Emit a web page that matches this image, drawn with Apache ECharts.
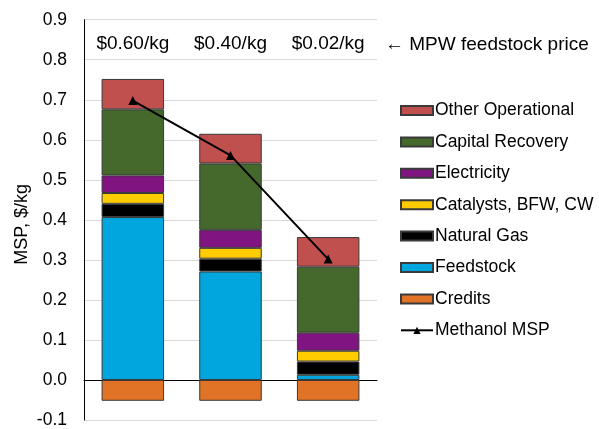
<!DOCTYPE html>
<html>
<head>
<meta charset="utf-8">
<script src="https://cdn.jsdelivr.net/npm/echarts@6/dist/echarts.min.js"></script>
<style>html,body{margin:0;padding:0;background:#fff}#c{width:599px;height:429px}</style>
</head>
<body>
<div id="c"></div>
<script>
const categories = ['$0.60/kg', '$0.40/kg', '$0.02/kg'];
const feedstock = [0.407, 0.271, 0.013];
const naturalGas = [0.033, 0.032, 0.033];
const catalysts = [0.027, 0.027, 0.027];
const electricity = [0.044, 0.045, 0.045];
const capitalRecovery = [0.165, 0.166, 0.165];
const otherOperational = [0.076, 0.074, 0.074];
const credits = [-0.052, -0.052, -0.052];
const methanolMSP = [0.698, 0.561, 0.302];
const yTicks = { min: -0.1, max: 0.9, interval: 0.1 };

const FONT = 'Liberation Sans';
const border = { borderColor: '#3a3a3a', borderWidth: 1 };
function bar(name, data, color) {
  return { name, type: 'bar', stack: 'msp', data, barWidth: '64%',
    itemStyle: Object.assign({ color }, border), emphasis: { disabled: true } };
}
const chart = echarts.init(document.getElementById('c'), null, { renderer: 'canvas' });
chart.setOption({
  animation: false,
  textStyle: { fontFamily: FONT, color: '#000' },
  grid: { left: 84, right: 222, top: 19.7, bottom: 6 },
  legend: {
    orient: 'vertical', left: 395, top: 96,
    itemWidth: 32, itemHeight: 9, itemGap: 12.4,
    textStyle: { fontFamily: FONT, fontSize: 17.5, color: '#000', lineHeight: 19, padding: [0, 0, 0, -3] },
    data: [
      { name: 'Other Operational', icon: 'rect' }, { name: 'Capital Recovery', icon: 'rect' },
      { name: 'Electricity', icon: 'rect' }, { name: 'Catalysts, BFW, CW', icon: 'rect' },
      { name: 'Natural Gas', icon: 'rect' }, { name: 'Feedstock', icon: 'rect' },
      { name: 'Credits', icon: 'rect' }, { name: 'Methanol MSP' }
    ]
  },
  xAxis: [{
    type: 'category', data: categories,
    axisLine: { onZero: true, lineStyle: { color: '#000', width: 1 } },
    axisTick: { show: false }, axisLabel: { show: false }
  }, {
    type: 'category', data: categories, position: 'top',
    axisLine: { show: false }, axisTick: { show: false },
    axisLabel: { inside: true, margin: 15, fontSize: 19, color: '#000', fontFamily: FONT }
  }],
  yAxis: {
    type: 'value', min: yTicks.min, max: yTicks.max, interval: yTicks.interval,
    name: 'MSP, $/kg', nameLocation: 'middle', nameGap: 53, nameRotate: 90,
    nameTextStyle: { fontSize: 18, color: '#000', fontFamily: FONT, padding: [0, 9, 0, 0] },
    axisLine: { show: true, lineStyle: { color: '#000', width: 1 } },
    axisTick: { show: false },
    axisLabel: { fontSize: 17.5, color: '#000', margin: 17, fontFamily: FONT,
      formatter: v => (Math.round(v * 10) / 10).toFixed(1) },
    splitLine: { lineStyle: { color: '#d9d9d9', width: 1 } }
  },
  graphic: [{
    type: 'text', left: 385, top: 35,
    style: { text: '\u2190 MPW feedstock price', font: '19px "Liberation Sans"', fill: '#000' }
  }],
  series: [
    bar('Feedstock', feedstock, '#00A6DD'),
    bar('Natural Gas', naturalGas, '#000000'),
    bar('Catalysts, BFW, CW', catalysts, '#FFCC00'),
    bar('Electricity', electricity, '#801480'),
    bar('Capital Recovery', capitalRecovery, '#45682C'),
    bar('Other Operational', otherOperational, '#C0504D'),
    bar('Credits', credits, '#E07325'),
    { name: 'Methanol MSP', type: 'line', data: methanolMSP, symbol: 'triangle', symbolSize: 9,
      lineStyle: { color: '#000', width: 2 }, itemStyle: { color: '#000' }, z: 5,
      emphasis: { disabled: true } }
  ]
});
</script>
</body>
</html>
